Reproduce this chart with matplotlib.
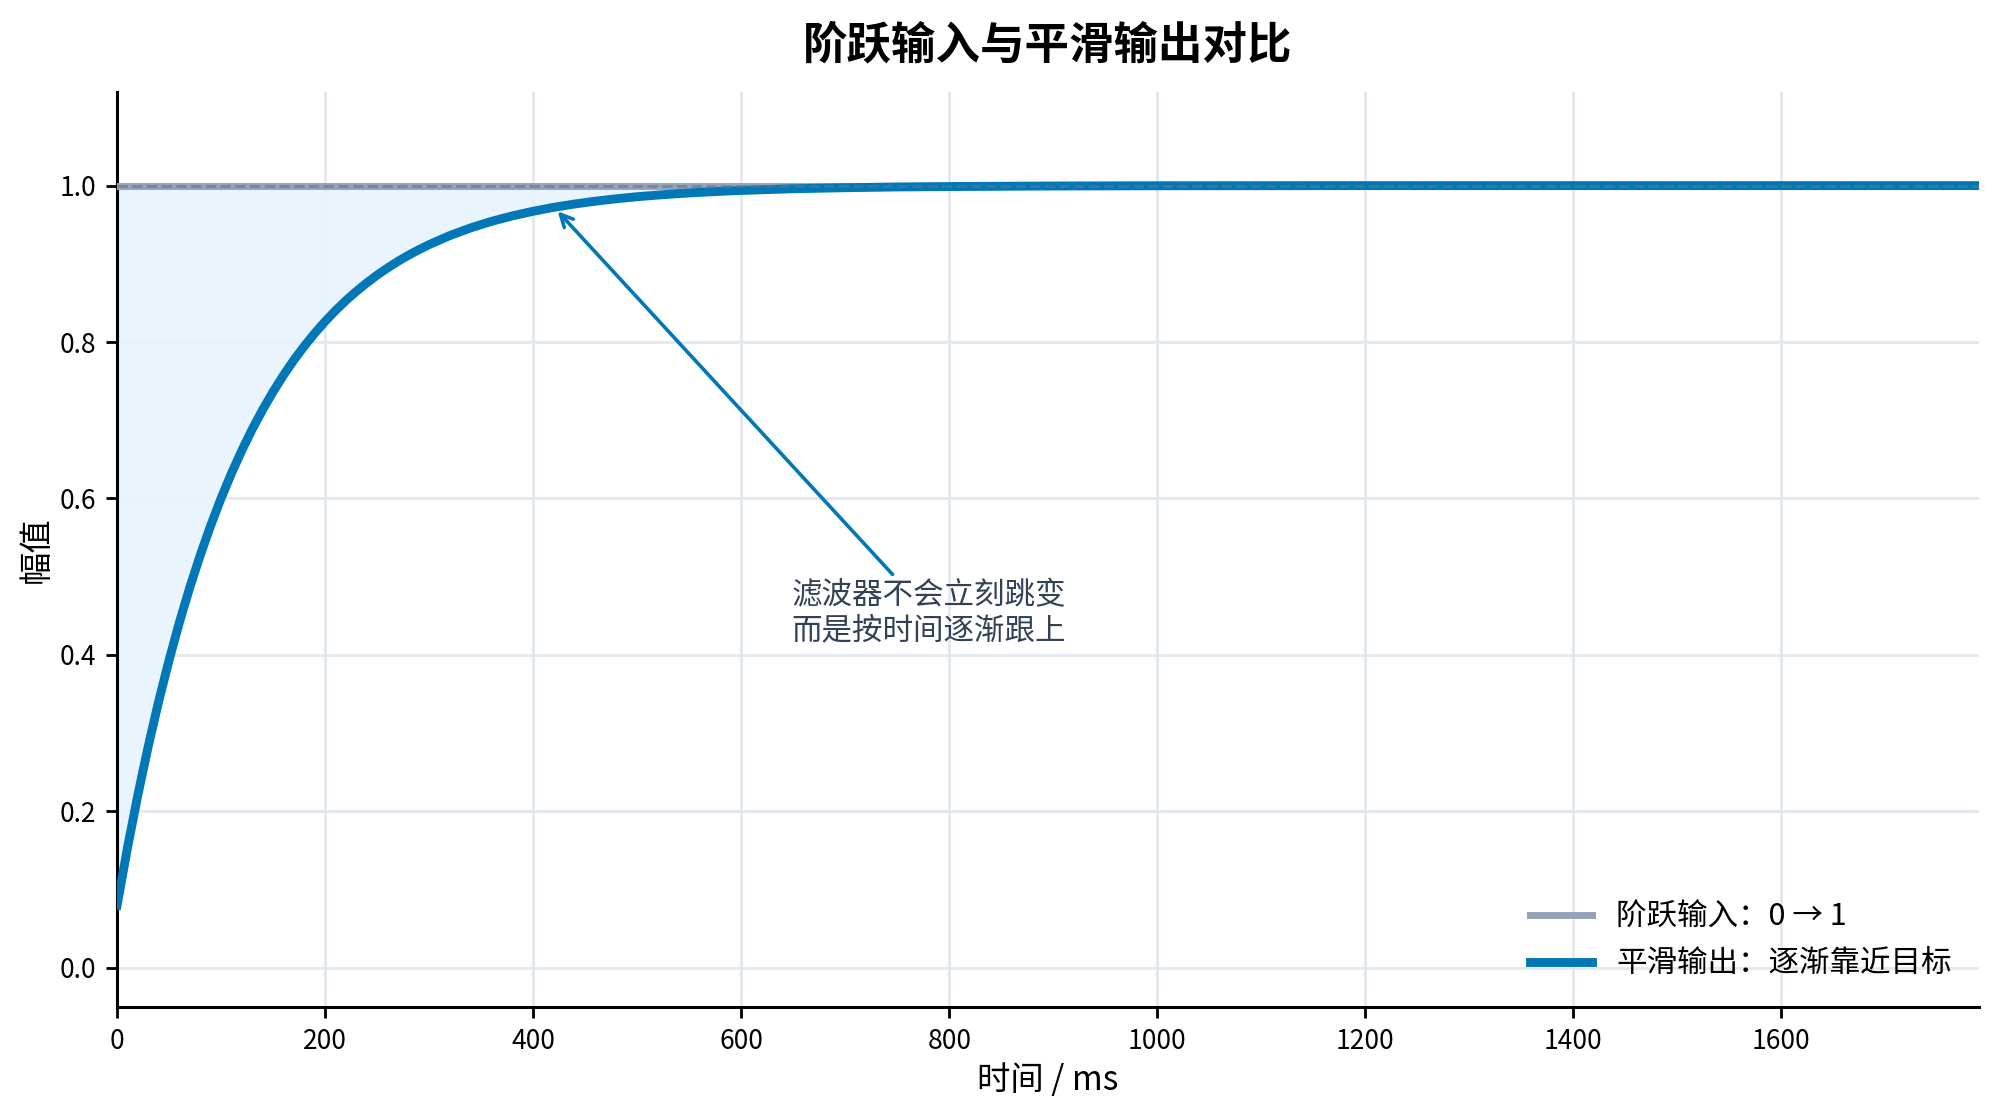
import matplotlib
matplotlib.use("Agg")
import matplotlib.pyplot as plt

plt.rcParams['font.family'] = ['Noto Sans CJK SC', 'DejaVu Sans']
plt.rcParams['axes.unicode_minus'] = False

# Data
time_ms = [0, 10, 20, 30, 40, 50, 60, 70, 80, 90, 100, 110, 120, 130, 140, 150,
           160, 170, 180, 190, 200, 210, 220, 230, 240, 250, 260, 270, 280, 290,
           300, 320, 340, 360, 380, 400, 420, 440, 460, 480, 500, 520, 540, 560,
           580, 600, 650, 700, 750, 800, 900, 1000, 1200, 1400, 1600, 1790]
smooth_out = [0.0800, 0.1536, 0.2213, 0.2836, 0.3409, 0.3936, 0.4422, 0.4868,
              0.5278, 0.5656, 0.6004, 0.6323, 0.6617, 0.6888, 0.7137, 0.7366,
              0.7577, 0.7771, 0.7949, 0.8113, 0.8264, 0.8403, 0.8531, 0.8648,
              0.8756, 0.8856, 0.8947, 0.9032, 0.9109, 0.9180, 0.9246, 0.9362,
              0.9460, 0.9543, 0.9613, 0.9672, 0.9723, 0.9765, 0.9801, 0.9832,
              0.9858, 0.9879, 0.9898, 0.9914, 0.9927, 0.9938, 0.9960, 0.9973,
              0.9983, 0.9988, 0.9995, 0.9998, 1.0, 1.0, 1.0, 1.0]
step_time = [0, 1790]
step_in = [1.0, 1.0]
x_ticks = [0, 200, 400, 600, 800, 1000, 1200, 1400, 1600]
y_ticks = [0.0, 0.2, 0.4, 0.6, 0.8, 1.0]
annot_x = 420
annot_y = smooth_out[time_ms.index(annot_x)]

fig = plt.figure(figsize=(9.995, 5.575), dpi=200)
ax = fig.add_axes([0.0586, 0.0971, 0.9314, 0.8206])

ax.fill_between(time_ms, smooth_out, 1.0, color='#e8f4fd', alpha=0.95, zorder=1, linewidth=0)
ax.plot(step_time, step_in, color='#94a3b8', lw=2.5, zorder=3, label='阶跃输入：0 → 1')
ax.plot(time_ms, smooth_out, color='#0077b6', lw=3.2, zorder=4, label='平滑输出：逐渐靠近目标')
ax.axhline(1.0, color='#64748b', lw=1.0, ls='--', alpha=0.6, zorder=5)

ax.annotate('滤波器不会立刻跳变\n而是按时间逐渐跟上',
            xy=(annot_x, annot_y), xytext=(780, 0.453),
            ha='center', va='center', fontsize=11, color='#334155',
            arrowprops=dict(arrowstyle='->', color='#0077b6', lw=1.3, shrinkA=0, shrinkB=2),
            zorder=6)

ax.set_xlim(0, 1790)
ax.set_ylim(-0.05, 1.12)
ax.set_xticks(x_ticks)
ax.set_yticks(y_ticks)
ax.set_yticklabels([f'{v:.1f}' for v in y_ticks])
ax.tick_params(labelsize=9.5, length=4, width=1)
ax.grid(True, color='#e2e8f0', lw=1.0, zorder=0)
ax.set_axisbelow(True)
for s in ['top', 'right']:
    ax.spines[s].set_visible(False)
for s in ['left', 'bottom']:
    ax.spines[s].set_linewidth(1.1)

ax.set_xlabel('时间 / ms', fontsize=12, labelpad=3)
ax.set_ylabel('幅值', fontsize=12, labelpad=2)
ax.set_title('阶跃输入与平滑输出对比', fontsize=16, fontweight='bold', pad=12)

ax.legend(loc='lower right', frameon=False, fontsize=11, handlelength=2.0)

fig.savefig('out.png', dpi=200)
